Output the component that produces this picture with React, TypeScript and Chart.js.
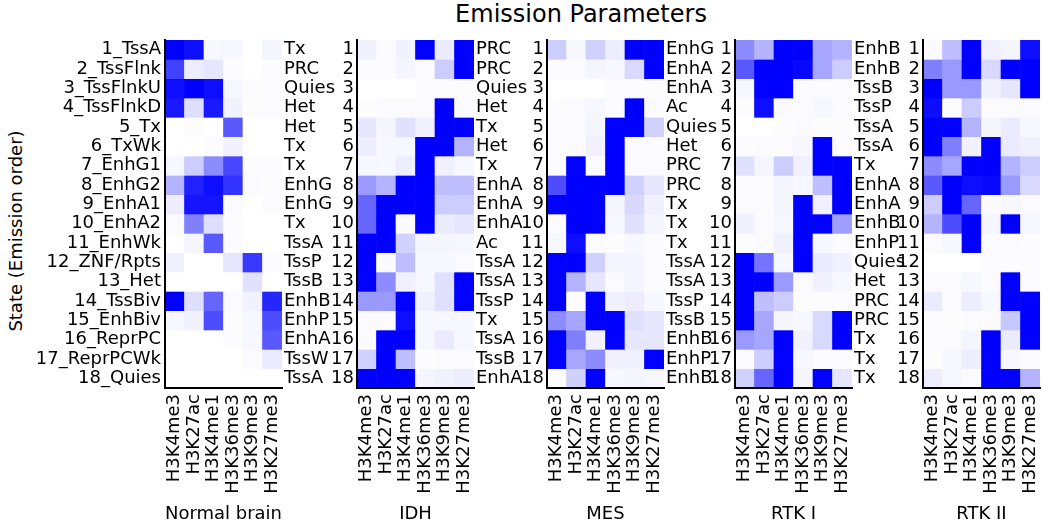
import React, { useEffect, useRef } from "react";
import { Chart, registerables } from "chart.js";

Chart.register(...registerables);

// ---------- data ----------
const marks = ["H3K4me3", "H3K27ac", "H3K4me1", "H3K36me3", "H3K9me3", "H3K27me3"];
const stateNumbers = ["1", "2", "3", "4", "5", "6", "7", "8", "9", "10", "11", "12", "13", "14", "15", "16", "17", "18"];

const normalStates = ["1_TssA", "2_TssFlnk", "3_TssFlnkU", "4_TssFlnkD", "5_Tx", "6_TxWk", "7_EnhG1", "8_EnhG2", "9_EnhA1", "10_EnhA2", "11_EnhWk", "12_ZNF/Rpts", "13_Het", "14_TssBiv", "15_EnhBiv", "16_ReprPC", "17_ReprPCWk", "18_Quies"];
const idhStates = ["Tx", "PRC", "Quies", "Het", "Het", "Tx", "Tx", "EnhG", "EnhG", "Tx", "TssA", "TssP", "TssB", "EnhB", "EnhP", "EnhA", "TssW", "TssA"];
const mesStates = ["PRC", "PRC", "Quies", "Het", "Tx", "Het", "Tx", "EnhA", "EnhA", "EnhA", "Ac", "TssA", "TssA", "TssP", "Tx", "TssA", "TssB", "EnhA"];
const rtk1States = ["EnhG", "EnhA", "EnhA", "Ac", "Quies", "Het", "PRC", "PRC", "Tx", "Tx", "Tx", "TssA", "TssA", "TssP", "TssB", "EnhB", "EnhP", "EnhB"];
const rtk2States = ["EnhB", "EnhB", "TssB", "TssP", "TssA", "TssA", "Tx", "EnhA", "EnhA", "EnhB", "EnhP", "Quies", "Het", "PRC", "PRC", "Tx", "Tx", "Tx"];

const normalValues = [
  [1.0, 0.95, 0.03, 0.03, 0.0, 0.04],
  [0.75, 0.07, 0.1, 0.01, 0.0, 0.01],
  [0.95, 1.0, 0.95, 0.03, 0.01, 0.02],
  [0.9, 0.13, 0.9, 0.05, 0.01, 0.02],
  [0.0, 0.01, 0.0, 0.65, 0.0, 0.0],
  [0.0, 0.0, 0.01, 0.05, 0.0, 0.0],
  [0.03, 0.2, 0.45, 0.72, 0.01, 0.01],
  [0.3, 0.87, 0.95, 0.8, 0.02, 0.01],
  [0.07, 0.92, 0.92, 0.02, 0.0, 0.01],
  [0.02, 0.5, 0.13, 0.01, 0.0, 0.0],
  [0.0, 0.04, 0.65, 0.01, 0.0, 0.0],
  [0.05, 0.0, 0.0, 0.1, 0.78, 0.02],
  [0.0, 0.0, 0.0, 0.0, 0.12, 0.0],
  [1.0, 0.13, 0.6, 0.02, 0.05, 0.85],
  [0.03, 0.05, 0.7, 0.01, 0.03, 0.7],
  [0.0, 0.0, 0.0, 0.01, 0.03, 0.65],
  [0.0, 0.0, 0.0, 0.0, 0.02, 0.08],
  [0.0, 0.0, 0.0, 0.0, 0.0, 0.0],
];
const idhValues = [
  [0.05, 0.02, 0.05, 1.0, 0.08, 1.0],
  [0.02, 0.02, 0.04, 0.02, 0.2, 1.0],
  [0.0, 0.0, 0.0, 0.01, 0.01, 0.01],
  [0.01, 0.02, 0.02, 0.02, 1.0, 0.02],
  [0.1, 0.04, 0.12, 0.06, 1.0, 1.0],
  [0.07, 0.03, 0.03, 1.0, 1.0, 0.3],
  [0.03, 0.03, 0.07, 1.0, 0.06, 0.03],
  [0.4, 0.3, 1.0, 1.0, 0.25, 0.25],
  [0.6, 1.0, 1.0, 1.0, 0.2, 0.2],
  [0.6, 1.0, 0.02, 1.0, 0.08, 0.1],
  [1.0, 1.0, 0.18, 0.04, 0.04, 0.03],
  [1.0, 0.02, 0.25, 0.03, 0.03, 0.02],
  [1.0, 0.45, 0.06, 0.03, 0.12, 1.0],
  [0.4, 0.4, 1.0, 0.06, 0.12, 1.0],
  [0.02, 0.02, 0.95, 0.03, 0.03, 0.03],
  [0.02, 1.0, 1.0, 0.03, 0.08, 0.03],
  [0.18, 1.0, 0.25, 0.01, 0.02, 0.02],
  [1.0, 1.0, 1.0, 0.04, 0.05, 0.07],
];
const mesValues = [
  [0.2, 0.03, 0.18, 0.07, 1.0, 1.0],
  [0.02, 0.02, 0.04, 0.03, 0.15, 1.0],
  [0.0, 0.0, 0.0, 0.01, 0.01, 0.01],
  [0.01, 0.02, 0.03, 0.01, 1.0, 0.02],
  [0.02, 0.02, 0.04, 1.0, 1.0, 0.18],
  [0.02, 0.02, 0.06, 1.0, 0.02, 0.02],
  [0.02, 1.0, 0.02, 1.0, 0.02, 0.02],
  [0.7, 1.0, 1.0, 1.0, 0.18, 0.1],
  [1.0, 1.0, 1.0, 0.04, 0.15, 0.06],
  [0.02, 1.0, 1.0, 0.03, 0.12, 0.04],
  [0.03, 0.95, 0.02, 0.01, 0.03, 0.02],
  [1.0, 1.0, 0.18, 0.04, 0.04, 0.02],
  [1.0, 0.3, 0.1, 0.02, 0.04, 0.02],
  [1.0, 0.01, 1.0, 0.06, 0.07, 0.03],
  [0.45, 0.35, 1.0, 1.0, 0.12, 0.1],
  [1.0, 0.5, 0.05, 1.0, 0.1, 0.1],
  [1.0, 0.35, 0.45, 0.05, 0.06, 1.0],
  [0.01, 0.18, 1.0, 0.03, 0.04, 0.03],
];
const rtk1Values = [
  [0.45, 0.3, 1.0, 1.0, 0.35, 0.3],
  [0.65, 1.0, 1.0, 0.97, 0.35, 0.2],
  [0.03, 1.0, 1.0, 0.02, 0.02, 0.02],
  [0.01, 0.95, 0.02, 0.02, 0.03, 0.02],
  [0.0, 0.0, 0.01, 0.02, 0.01, 0.01],
  [0.01, 0.02, 0.02, 0.03, 1.0, 0.02],
  [0.12, 0.04, 0.2, 0.06, 1.0, 1.0],
  [0.02, 0.02, 0.04, 0.03, 0.25, 1.0],
  [0.02, 0.02, 0.04, 1.0, 0.06, 1.0],
  [0.06, 0.02, 0.03, 1.0, 1.0, 0.38],
  [0.01, 0.02, 0.06, 1.0, 0.03, 0.02],
  [1.0, 0.55, 0.03, 1.0, 0.08, 0.06],
  [1.0, 1.0, 0.4, 0.02, 0.05, 0.03],
  [1.0, 0.25, 0.2, 0.01, 0.01, 0.02],
  [1.0, 0.35, 0.04, 0.03, 0.15, 1.0],
  [0.4, 0.35, 1.0, 0.05, 0.15, 1.0],
  [0.02, 0.2, 1.0, 0.03, 0.02, 0.02],
  [0.18, 0.6, 1.0, 0.04, 1.0, 0.1],
];
const rtk2Values = [
  [0.02, 0.25, 1.0, 0.06, 0.04, 0.95],
  [0.5, 0.4, 1.0, 0.15, 1.0, 1.0],
  [1.0, 0.4, 0.4, 0.05, 0.1, 1.0],
  [0.95, 0.01, 0.2, 0.02, 0.02, 0.02],
  [1.0, 1.0, 0.3, 0.04, 0.08, 0.03],
  [1.0, 0.5, 0.05, 1.0, 0.08, 0.06],
  [0.45, 0.35, 1.0, 1.0, 0.3, 0.2],
  [0.65, 1.0, 0.95, 0.97, 0.4, 0.15],
  [0.2, 1.0, 0.6, 0.02, 0.03, 0.02],
  [0.3, 0.7, 1.0, 0.04, 1.0, 0.03],
  [0.02, 0.03, 1.0, 0.02, 0.02, 0.01],
  [0.0, 0.0, 0.0, 0.01, 0.01, 0.01],
  [0.02, 0.02, 0.03, 0.02, 1.0, 0.02],
  [0.08, 0.02, 0.07, 0.03, 1.0, 1.0],
  [0.01, 0.01, 0.02, 0.02, 0.22, 1.0],
  [0.01, 0.02, 0.04, 1.0, 0.08, 1.0],
  [0.01, 0.03, 0.07, 1.0, 0.03, 0.02],
  [0.07, 0.03, 0.02, 1.0, 1.0, 0.3],
];

const panelTitles = ["Normal brain", "IDH", "MES", "RTK I", "RTK II"];
const mainTitle = "Emission Parameters";
const yTitle = "State (Emission order)";

// ---------- layout / style ----------
const FONT = "'DejaVu Sans', 'Bitstream Vera Sans', sans-serif";
const AREA_LEFTS = [165, 357, 547, 735, 923];
const AREA_W = 117;
const HEIGHT = 530;

function shade(v: number) {
  const c = Math.round(255 * (1 - v));
  return `rgb(${c},${c},255)`;
}

type PanelProps = {
  index: number;
  values: number[][];
  names: string[];
  title: string;
};

function Panel({ index, values, names, title }: PanelProps) {
  const ref = useRef<HTMLCanvasElement>(null);
  const first = index === 0;
  const areaLeft = AREA_LEFTS[index];
  const canvasLeft = first ? 0 : AREA_LEFTS[index - 1] + AREA_W + 2;
  const width = areaLeft + AREA_W + 4 - canvasLeft;

  useEffect(() => {
    if (!ref.current) return;
    const tickFont = { family: FONT, size: 18 };
    const rowTicks = (s: any) => {
      s.ticks = values.map((_, i) => ({ value: i + 1 }));
    };
    const datasets = values.map((row, r) => ({
      label: names[r],
      data: row.map(() => [r + 0.5, r + 1.5]),
      backgroundColor: row.map(shade),
      borderWidth: 0,
      grouped: false,
      barPercentage: 1,
      categoryPercentage: 1,
    }));
    const scales: any = {
      x: {
        type: "category",
        offset: true,
        grid: { display: false, drawTicks: false },
        border: { display: true, color: "#000", width: 2, z: 1 },
        ticks: {
          autoSkip: false,
          minRotation: 90,
          maxRotation: 90,
          color: "#000",
          font: tickFont,
          padding: 6,
        },
        title: {
          display: true,
          text: title,
          color: "#000",
          font: { family: FONT, size: 18 },
          padding: { top: 0, bottom: 5 },
        },
        afterFit: (s: any) => {
          s.height = 142;
          s.paddingLeft = 0;
          s.paddingRight = 0;
        },
      },
      y: {
        type: "linear",
        position: "left",
        reverse: true,
        min: 0.5,
        max: 18.5,
        weight: 0,
        grid: { display: false, drawTicks: false },
        border: { display: true, color: "#000", width: 2, z: 1 },
        ticks: {
          autoSkip: false,
          color: "#000",
          font: tickFont,
          padding: first ? 4 : 3,
          callback: (_v: any, i: number) => (first ? names[i] : stateNumbers[i]),
        },
        afterBuildTicks: rowTicks,
        afterFit: (s: any) => {
          s.width = areaLeft - canvasLeft;
        },
      },
    };
    if (!first) {
      // state-name labels, left-aligned at the outer edge (mirrored, zero-width axis)
      scales.yName = {
        type: "linear",
        position: "left",
        reverse: true,
        min: 0.5,
        max: 18.5,
        weight: 1,
        grid: { display: false, drawTicks: false },
        border: { display: false },
        ticks: {
          autoSkip: false,
          mirror: true,
          crossAlign: "near",
          color: "#000",
          font: tickFont,
          padding: 0,
          callback: (_v: any, i: number) => names[i],
        },
        afterBuildTicks: rowTicks,
        afterFit: (s: any) => {
          s.width = 0;
        },
      };
    }
    const chart = new Chart(ref.current, {
      type: "bar",
      data: { labels: marks, datasets: datasets as any },
      options: {
        animation: false,
        responsive: false,
        maintainAspectRatio: false,
        events: [],
        layout: { padding: { top: 40, right: 4, bottom: 0, left: 0 } },
        plugins: { legend: { display: false }, tooltip: { enabled: false }, title: { display: false } },
        scales,
      } as any,
    });
    return () => chart.destroy();
  }, []);

  return (
    <canvas
      ref={ref}
      width={width}
      height={HEIGHT}
      style={{ position: "absolute", left: canvasLeft, top: 0, width, height: HEIGHT }}
    />
  );
}

const panelValues = [normalValues, idhValues, mesValues, rtk1Values, rtk2Values];
const panelNames = [normalStates, idhStates, mesStates, rtk1States, rtk2States];

export default function App() {
  useEffect(() => {
    document.body.style.margin = "0";
  }, []);
  return (
    <div
      style={{
        position: "absolute",
        left: 0,
        top: 0,
        width: 1044,
        height: HEIGHT,
        background: "#fff",
        overflow: "hidden",
        color: "#000",
      }}
    >
      <div
        style={{
          position: "absolute",
          left: 581,
          top: 0,
          transform: "translateX(-50%)",
          fontFamily: FONT,
          fontSize: 24,
          whiteSpace: "nowrap",
        }}
      >
        {mainTitle}
      </div>
      <div
        style={{
          position: "absolute",
          left: 15,
          top: 231,
          transform: "translate(-50%, -50%) rotate(-90deg)",
          fontFamily: FONT,
          fontSize: 18,
          whiteSpace: "nowrap",
        }}
      >
        {yTitle}
      </div>
      {panelTitles.map((t, i) => (
        <Panel key={t} index={i} values={panelValues[i]} names={panelNames[i]} title={t} />
      ))}
    </div>
  );
}
